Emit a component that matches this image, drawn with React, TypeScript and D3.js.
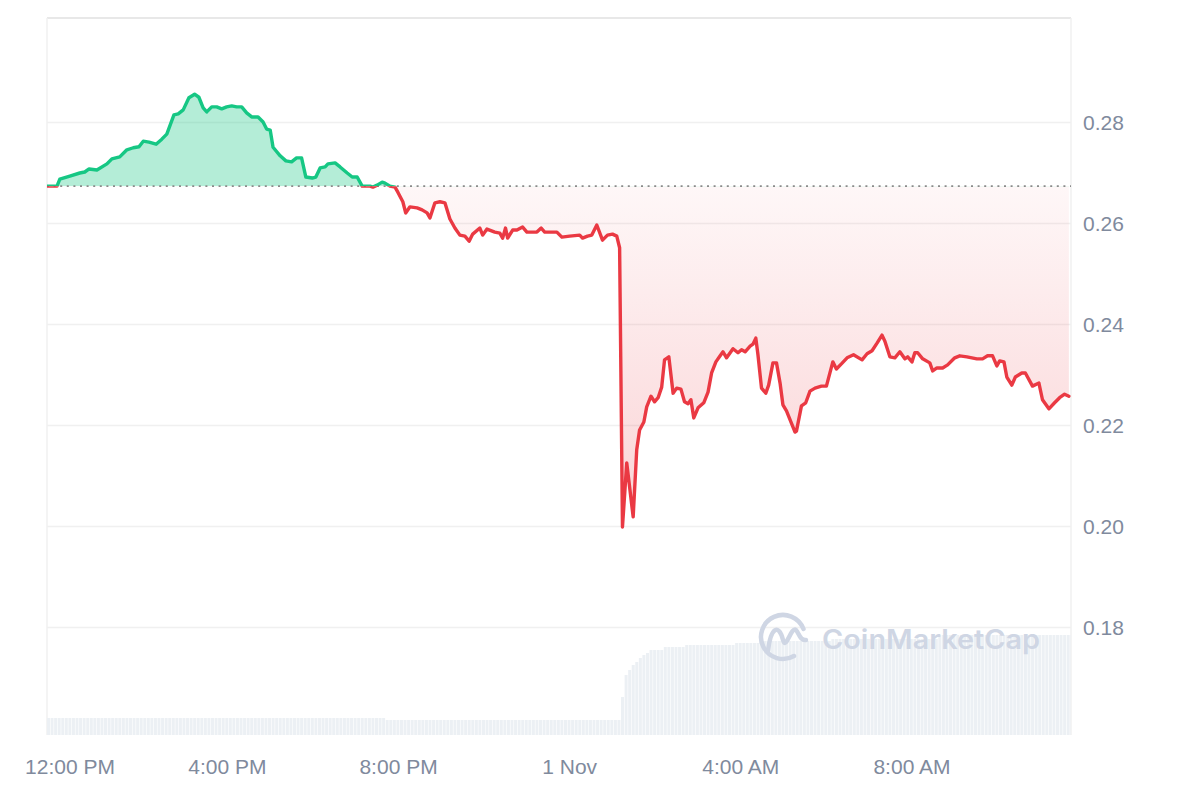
import React from "react";
import * as d3 from "d3";

// ---- data ----
const START = new Date(2024, 9, 31, 11, 47);
const SPAN_MIN = 1436;

const priceMinutes = [
  0, 14, 18, 32, 46, 53, 59, 70, 84, 91, 102, 112, 121, 129, 135, 143, 153, 161, 168, 178,
  184, 191, 199, 207, 213, 219, 224, 231, 238, 245, 252, 259, 266, 273, 280, 287, 296, 303, 308, 313,
  317, 327, 335, 343, 350, 357, 363, 372, 377, 383, 390, 394, 404, 411, 421, 428, 435, 442, 453, 457,
  463, 470, 474, 481, 488, 492, 499, 503, 509, 519, 526, 533, 537, 544, 551, 558, 565, 572, 579, 586,
  592, 597, 607, 611, 617, 628, 635, 639, 643, 646, 653, 659, 667, 673, 687, 693, 698, 715, 722, 733,
  747, 751, 758, 764, 771, 779, 786, 793, 799, 803, 807, 813, 822, 827, 831, 837, 841, 847, 852, 857,
  862, 866, 872, 878, 883, 889, 894, 899, 903, 907, 913, 921, 927, 932, 938, 943, 948, 953, 962, 969,
  974, 979, 986, 990, 994, 997, 1002, 1008, 1012, 1018, 1023, 1028, 1032, 1037, 1049, 1051, 1058, 1064, 1070, 1077,
  1086, 1093, 1102, 1107, 1114, 1122, 1131, 1143, 1150, 1157, 1164, 1171, 1175, 1182, 1189, 1196, 1203, 1207, 1213, 1217,
  1221, 1228, 1238, 1242, 1248, 1256, 1263, 1273, 1280, 1290, 1297, 1304, 1312, 1319, 1326, 1332, 1336, 1342, 1346, 1353,
  1358, 1367, 1372, 1382, 1391, 1396, 1405, 1413, 1420, 1427, 1433,
];

const priceValues = [
  0.2674, 0.2674, 0.2688, 0.2694, 0.27, 0.2702, 0.2708, 0.2706, 0.2718, 0.2728, 0.2732, 0.2746, 0.275, 0.2752, 0.2763, 0.2761, 0.2757, 0.2767, 0.2777, 0.2815,
  0.2817, 0.2825, 0.2849, 0.2856, 0.285, 0.2829, 0.2821, 0.2831, 0.2831, 0.2827, 0.2831, 0.2833, 0.2831, 0.2831, 0.2819, 0.2811, 0.2811, 0.2801, 0.2787, 0.2785,
  0.2751, 0.2734, 0.2724, 0.2722, 0.273, 0.273, 0.2692, 0.269, 0.2692, 0.271, 0.2712, 0.2718, 0.272, 0.2712, 0.27, 0.2692, 0.2692, 0.2674, 0.2674, 0.2672,
  0.2676, 0.2682, 0.268, 0.2674, 0.2672, 0.2662, 0.2643, 0.2621, 0.2633, 0.2631, 0.2627, 0.2621, 0.2611, 0.2641, 0.2643, 0.2641, 0.2609, 0.2591, 0.2577, 0.2575,
  0.2565, 0.2579, 0.2591, 0.2577, 0.2589, 0.2583, 0.2581, 0.2571, 0.2591, 0.2571, 0.2587, 0.2587, 0.2593, 0.2583, 0.2583, 0.2591, 0.2583, 0.2583, 0.2573, 0.2575,
  0.2577, 0.2571, 0.2575, 0.2577, 0.2597, 0.2567, 0.2577, 0.2579, 0.2575, 0.2552, 0.1999, 0.2126, 0.2019, 0.2152, 0.2191, 0.2207, 0.2237, 0.2258, 0.2247, 0.2255,
  0.2276, 0.233, 0.2336, 0.2264, 0.2274, 0.2272, 0.2247, 0.2243, 0.2251, 0.2215, 0.2235, 0.2245, 0.2266, 0.2304, 0.2326, 0.2336, 0.2346, 0.2334, 0.2352, 0.2344,
  0.235, 0.2346, 0.2357, 0.2361, 0.2373, 0.234, 0.2274, 0.2264, 0.228, 0.2324, 0.2324, 0.2284, 0.2241, 0.2229, 0.2187, 0.2189, 0.2239, 0.2245, 0.2268, 0.2274,
  0.2278, 0.2278, 0.2326, 0.2312, 0.2322, 0.2334, 0.234, 0.233, 0.2342, 0.2348, 0.2363, 0.2379, 0.2367, 0.2336, 0.2334, 0.2346, 0.2332, 0.2336, 0.2326, 0.2344,
  0.2344, 0.2332, 0.2324, 0.2308, 0.2314, 0.2314, 0.232, 0.2334, 0.2338, 0.2336, 0.2334, 0.2332, 0.2332, 0.2338, 0.2338, 0.2318, 0.2328, 0.2326, 0.2296, 0.228,
  0.2296, 0.2304, 0.2304, 0.2278, 0.2284, 0.2251, 0.2233, 0.2245, 0.2255, 0.2262, 0.2258,
];

const baselinePrice = 0.2674;

// volume (millions) as runs of equal 5-minute bars: start minute of run, value
const volumeRunStart = [0, 474, 805, 810, 815, 820, 825, 830, 835, 840, 845, 865, 895, 965, 1000, 1100, 1250];
const volumeRunValue = [1.7, 1.5, 3.8, 6.0, 6.5, 7.0, 7.3, 7.7, 8.0, 8.2, 8.5, 8.8, 9.0, 9.2, 9.4, 9.6, 10.0];
const VOLUME_STEP_MIN = 5;

const yTicks = [0.18, 0.2, 0.22, 0.24, 0.26, 0.28];

// ---- layout ----
const W = 1200;
const H = 800;
const LEFT = 47;
const RIGHT = 1071;
const TOP = 18;
const BOTTOM = 735;

const GREEN = "#16c784";
const RED = "#ea3943";
const LABEL = "#808a9d";
const GRID = "#f0f0f0";
const FONT = "'Liberation Sans', Arial, Helvetica, sans-serif";

const toDate = (m: number) => new Date(START.getTime() + m * 60000);

export default function App() {
  const END = toDate(SPAN_MIN);
  const x = d3.scaleTime().domain([START, END]).range([LEFT, RIGHT]);
  const y = d3.scaleLinear().domain([0.18, 0.28]).range([627.5, 122.5]);
  const yVol = d3.scaleLinear().domain([0, 10]).range([BOTTOM, BOTTOM - 100]);
  const yBase = y(baselinePrice);

  const pts = priceMinutes.map((m, i) => ({ t: toDate(m), v: priceValues[i] }));
  const line = d3
    .line<{ t: Date; v: number }>()
    .x((d) => x(d.t))
    .y((d) => y(d.v));
  const area = d3
    .area<{ t: Date; v: number }>()
    .x((d) => x(d.t))
    .y0(yBase)
    .y1((d) => y(d.v));
  const linePath = line(pts) || "";
  const areaPath = area(pts) || "";

  // volume bars
  const bars: { x0: number; x1: number; v: number }[] = [];
  for (let m = 0; m < SPAN_MIN; m += VOLUME_STEP_MIN) {
    let idx = 0;
    for (let k = 0; k < volumeRunStart.length; k++) if (volumeRunStart[k] <= m) idx = k;
    bars.push({ x0: x(toDate(m)), x1: x(toDate(Math.min(m + VOLUME_STEP_MIN, SPAN_MIN))), v: volumeRunValue[idx] });
  }

  const xTicks = d3.timeHour.every(4)!.range(START, END);
  const fmtHour = d3.timeFormat("%-I:%M %p");
  const fmtDay = d3.timeFormat("%-d %b");
  const fmt = (d: Date) => (d.getHours() === 0 ? fmtDay(d) : fmtHour(d));

  return (
    <svg
      width={W}
      height={H}
      viewBox={`0 0 ${W} ${H}`}
      style={{ position: "absolute", left: 0, top: 0, background: "#fff" }}
    >
      <defs>
        <clipPath id="above">
          <rect x={LEFT} y={0} width={RIGHT - LEFT} height={yBase} />
        </clipPath>
        <clipPath id="below">
          <rect x={LEFT} y={yBase} width={RIGHT - LEFT} height={H - yBase} />
        </clipPath>
        <linearGradient id="redFill" gradientUnits="userSpaceOnUse" x1={0} x2={0} y1={yBase} y2={y(0.2)}>
          <stop offset="0" stopColor={RED} stopOpacity={0.04} />
          <stop offset="1" stopColor={RED} stopOpacity={0.22} />
        </linearGradient>
      </defs>

      {/* grid */}
      {yTicks.map((t) => (
        <line key={t} x1={LEFT} x2={RIGHT} y1={y(t)} y2={y(t)} stroke={GRID} strokeWidth={1.5} />
      ))}
      <line x1={LEFT} x2={RIGHT} y1={TOP} y2={TOP} stroke="#e8e8e8" strokeWidth={2} />
      <line x1={LEFT} x2={LEFT} y1={TOP} y2={BOTTOM} stroke={GRID} strokeWidth={1.5} />
      <line x1={RIGHT} x2={RIGHT} y1={TOP} y2={BOTTOM} stroke={GRID} strokeWidth={1.5} />

      {/* volume */}
      {bars.map((b, i) => (
        <rect
          key={i}
          x={b.x0}
          y={yVol(b.v)}
          width={Math.max(0.5, b.x1 - b.x0 - 0.6)}
          height={BOTTOM - yVol(b.v)}
          fill="#ecf0f4"
        />
      ))}

      {/* watermark */}
      <g fill="none" stroke="#cfd6e4" strokeWidth={4.5} strokeLinecap="round" strokeLinejoin="round">
        <path d="M 803.5 629 A 22 22 0 1 0 794 656" />
        <path d="M 768 651 C 771 626, 779 624, 783 640 C 786 651, 791 626, 796 630 C 799 633, 800 641, 806 640" />
      </g>
      <text
        x={822}
        y={649}
        fontFamily="Inter, 'Open Sans', sans-serif"
        fontSize={27}
        fontWeight={600}
        fill="#cfd6e4"
        textLength={218}
        lengthAdjust="spacingAndGlyphs"
      >
        CoinMarketCap
      </text>

      {/* areas */}
      <path d={areaPath} fill={GREEN} fillOpacity={0.32} clipPath="url(#above)" />
      <path d={areaPath} fill="url(#redFill)" clipPath="url(#below)" />

      {/* baseline */}
      <line
        x1={LEFT}
        x2={RIGHT}
        y1={yBase}
        y2={yBase}
        stroke="#8a8a8a"
        strokeWidth={1.6}
        strokeDasharray="2 4.6"
      />

      {/* price line */}
      <path d={linePath} fill="none" stroke={GREEN} strokeWidth={3.4} strokeLinejoin="round" strokeLinecap="round" clipPath="url(#above)" />
      <path d={linePath} fill="none" stroke={RED} strokeWidth={3.4} strokeLinejoin="round" strokeLinecap="round" clipPath="url(#below)" />

      {/* y labels */}
      {yTicks.map((t) => (
        <text key={t} x={1083} y={y(t)} dy="0.35em" fontFamily={FONT} fontSize={21} fill={LABEL}>
          {t.toFixed(2)}
        </text>
      ))}

      {/* x labels */}
      {xTicks.map((t, i) => (
        <text
          key={i}
          x={Math.max(x(t), 70)}
          y={774}
          textAnchor="middle"
          fontFamily={FONT}
          fontSize={21}
          fill={LABEL}
        >
          {fmt(t)}
        </text>
      ))}
    </svg>
  );
}
